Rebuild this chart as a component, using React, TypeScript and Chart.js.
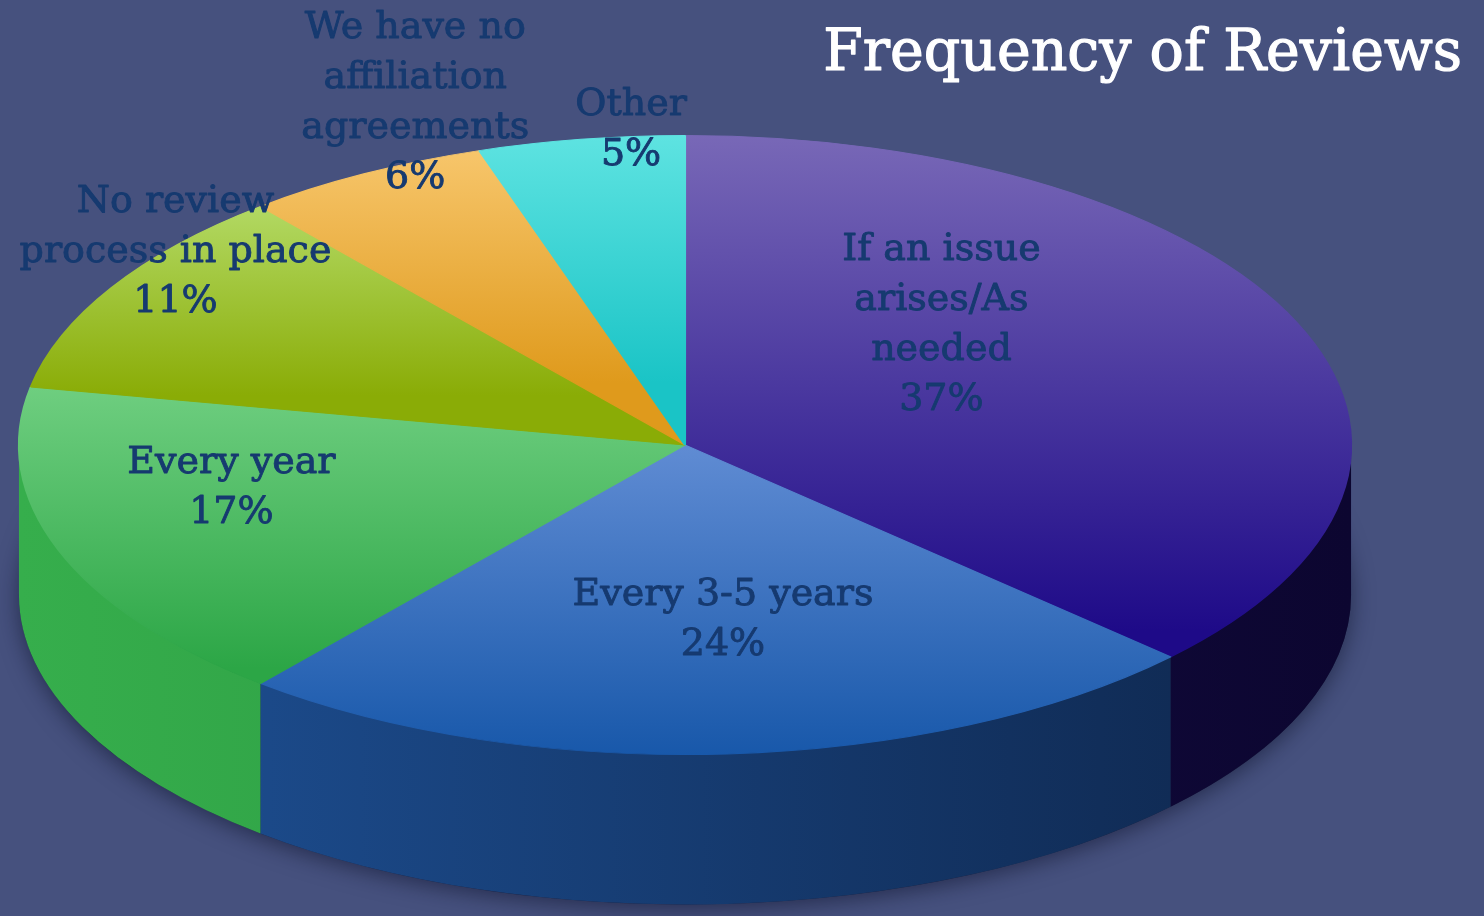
import React, { useEffect, useRef } from "react";
import { Chart, registerables } from "chart.js";

Chart.register(...registerables);

// ---- data ----
const categories: string[][] = [
  ["If an issue", "arises/As", "needed"],
  ["Every 3-5 years"],
  ["Every year"],
  ["No review", "process in place"],
  ["We have no", "affiliation", "agreements"],
  ["Other"],
];
const percentages: number[] = [37, 24, 17, 11, 6, 5];
const chartTitle = "Frequency of Reviews";

// ---- styles ----
const BG = "#46517e";
const TEXT = "#163a70";
const FONT = "'DejaVu Serif', 'Liberation Serif', serif";
const faceLight = ["#7868b7", "#6b94da", "#78d488", "#b4db68", "#f7c66c", "#5ee3e1"];
const faceDark = ["#1e0a88", "#1858aa", "#2ca646", "#8aac06", "#df9a1c", "#1ac4c6"];
const faceStops: [number, number][] = [
  [0.0, 0.8],
  [0.42, 1.0],
  [0.34, 0.86],
  [0.1, 0.42],
  [0.02, 0.4],
  [0.0, 0.4],
];
const sideLight = ["#1c1254", "#1e5196", "#36ae4c", "#8aac06", "#c8881a", "#18b0b2"];
const sideDark = ["#0c0630", "#0e264c", "#22883a", "#6e8a04", "#a06a10", "#108a8c"];
const labelAnchors: [number, number][] = [
  [0.385, -0.387],
  [0.057, 0.565],
  [-0.681, 0.139],
  [-0.765, -0.623],
  [-0.405, -1.106],
  [-0.081, -1.016],
];
const X_STRETCH = 2.152;
const DEPTH = 150;
const LINE_H = 50;

const pie3d = {
  id: "pie3d",
  beforeDatasetsDraw(chart: any) {
    const ctx: CanvasRenderingContext2D = chart.ctx;
    const arcs = chart.getDatasetMeta(0).data as any[];
    if (!arcs.length) return;
    const cx = arcs[0].x, cy = arcs[0].y, r = arcs[0].outerRadius;
    const rx = r * X_STRETCH, ry = r;
    // soft shadow under the pie
    ctx.save();
    ctx.shadowColor = "rgba(15,20,45,0.6)";
    ctx.shadowBlur = 22;
    ctx.shadowOffsetY = 4;
    ctx.fillStyle = "#1a2040";
    ctx.beginPath();
    ctx.ellipse(cx, cy + DEPTH, rx, ry, 0, 0, Math.PI * 2);
    ctx.fill();
    ctx.restore();
    // side walls (front half only)
    arcs.forEach((a: any, i: number) => {
      const a1 = Math.max(a.startAngle, 0);
      const a2 = Math.min(a.endAngle, Math.PI);
      if (a2 <= a1) return;
      const g = ctx.createLinearGradient(cx - rx, 0, cx + rx, 0);
      g.addColorStop(0, sideLight[i]);
      g.addColorStop(1, sideDark[i]);
      ctx.beginPath();
      ctx.ellipse(cx, cy, rx, ry, 0, a1, a2, false);
      ctx.ellipse(cx, cy + DEPTH, rx, ry, 0, a2, a1, true);
      ctx.closePath();
      ctx.fillStyle = g;
      ctx.fill();
    });
    // flatten top face into an ellipse
    ctx.save();
    ctx.translate(cx, cy);
    ctx.scale(X_STRETCH, 1);
    ctx.translate(-cx, -cy);
  },
  afterDatasetsDraw(chart: any) {
    const ctx: CanvasRenderingContext2D = chart.ctx;
    ctx.restore();
    const arcs = chart.getDatasetMeta(0).data as any[];
    if (!arcs.length) return;
    const cx = arcs[0].x, cy = arcs[0].y, r = arcs[0].outerRadius;
    const rx = r * X_STRETCH, ry = r;
    ctx.save();
    ctx.fillStyle = TEXT;
    ctx.strokeStyle = TEXT;
    ctx.lineWidth = 0.9;
    ctx.lineJoin = "round";
    ctx.textAlign = "center";
    ctx.textBaseline = "middle";
    ctx.font = `38px ${FONT}`;
    categories.forEach((lines, i) => {
      const all = [...lines, `${percentages[i]}%`];
      const x = cx + labelAnchors[i][0] * rx;
      const yc = cy + labelAnchors[i][1] * ry;
      const y0 = yc - ((all.length - 1) * LINE_H) / 2;
      all.forEach((t, k) => {
        ctx.fillText(t, x, y0 + k * LINE_H);
        ctx.strokeText(t, x, y0 + k * LINE_H);
      });
    });
    // title
    ctx.fillStyle = "#ffffff";
    ctx.strokeStyle = "#ffffff";
    ctx.lineWidth = 1.2;
    ctx.textAlign = "right";
    ctx.font = `57px ${FONT}`;
    ctx.fillText(chartTitle, 1462, 55);
    ctx.strokeText(chartTitle, 1462, 55);
    ctx.restore();
  },
};

export default function App() {
  const ref = useRef<HTMLCanvasElement | null>(null);
  useEffect(() => {
    document.body.style.margin = "0";
    const canvas = ref.current;
    if (!canvas) return;
    const faceColor = (c: any) => {
      const area = c.chart.chartArea;
      const i = c.dataIndex;
      if (!area) return faceLight[i];
      const g = c.chart.ctx.createLinearGradient(0, area.top, 0, area.bottom);
      g.addColorStop(faceStops[i][0], faceLight[i]);
      g.addColorStop(faceStops[i][1], faceDark[i]);
      return g;
    };
    const chart = new Chart(canvas, {
      type: "pie",
      data: {
        labels: categories.map((c) => c.join(" ")),
        datasets: [
          {
            data: percentages,
            clip: false as any,
            borderWidth: 1,
            backgroundColor: faceColor,
            borderColor: faceColor,
          },
        ],
      },
      options: {
        responsive: false,
        animation: false,
        events: [],
        devicePixelRatio: 1,
        layout: { padding: { top: 135, bottom: 161, left: 375, right: 489 } },
        plugins: {
          legend: { display: false },
          tooltip: { enabled: false },
          title: { display: false },
        },
      },
      plugins: [pie3d],
    });
    return () => chart.destroy();
  }, []);
  return (
    <div style={{ position: "absolute", left: 0, top: 0, width: 1484, height: 916, background: BG }}>
      <canvas ref={ref} width={1484} height={916} />
    </div>
  );
}
